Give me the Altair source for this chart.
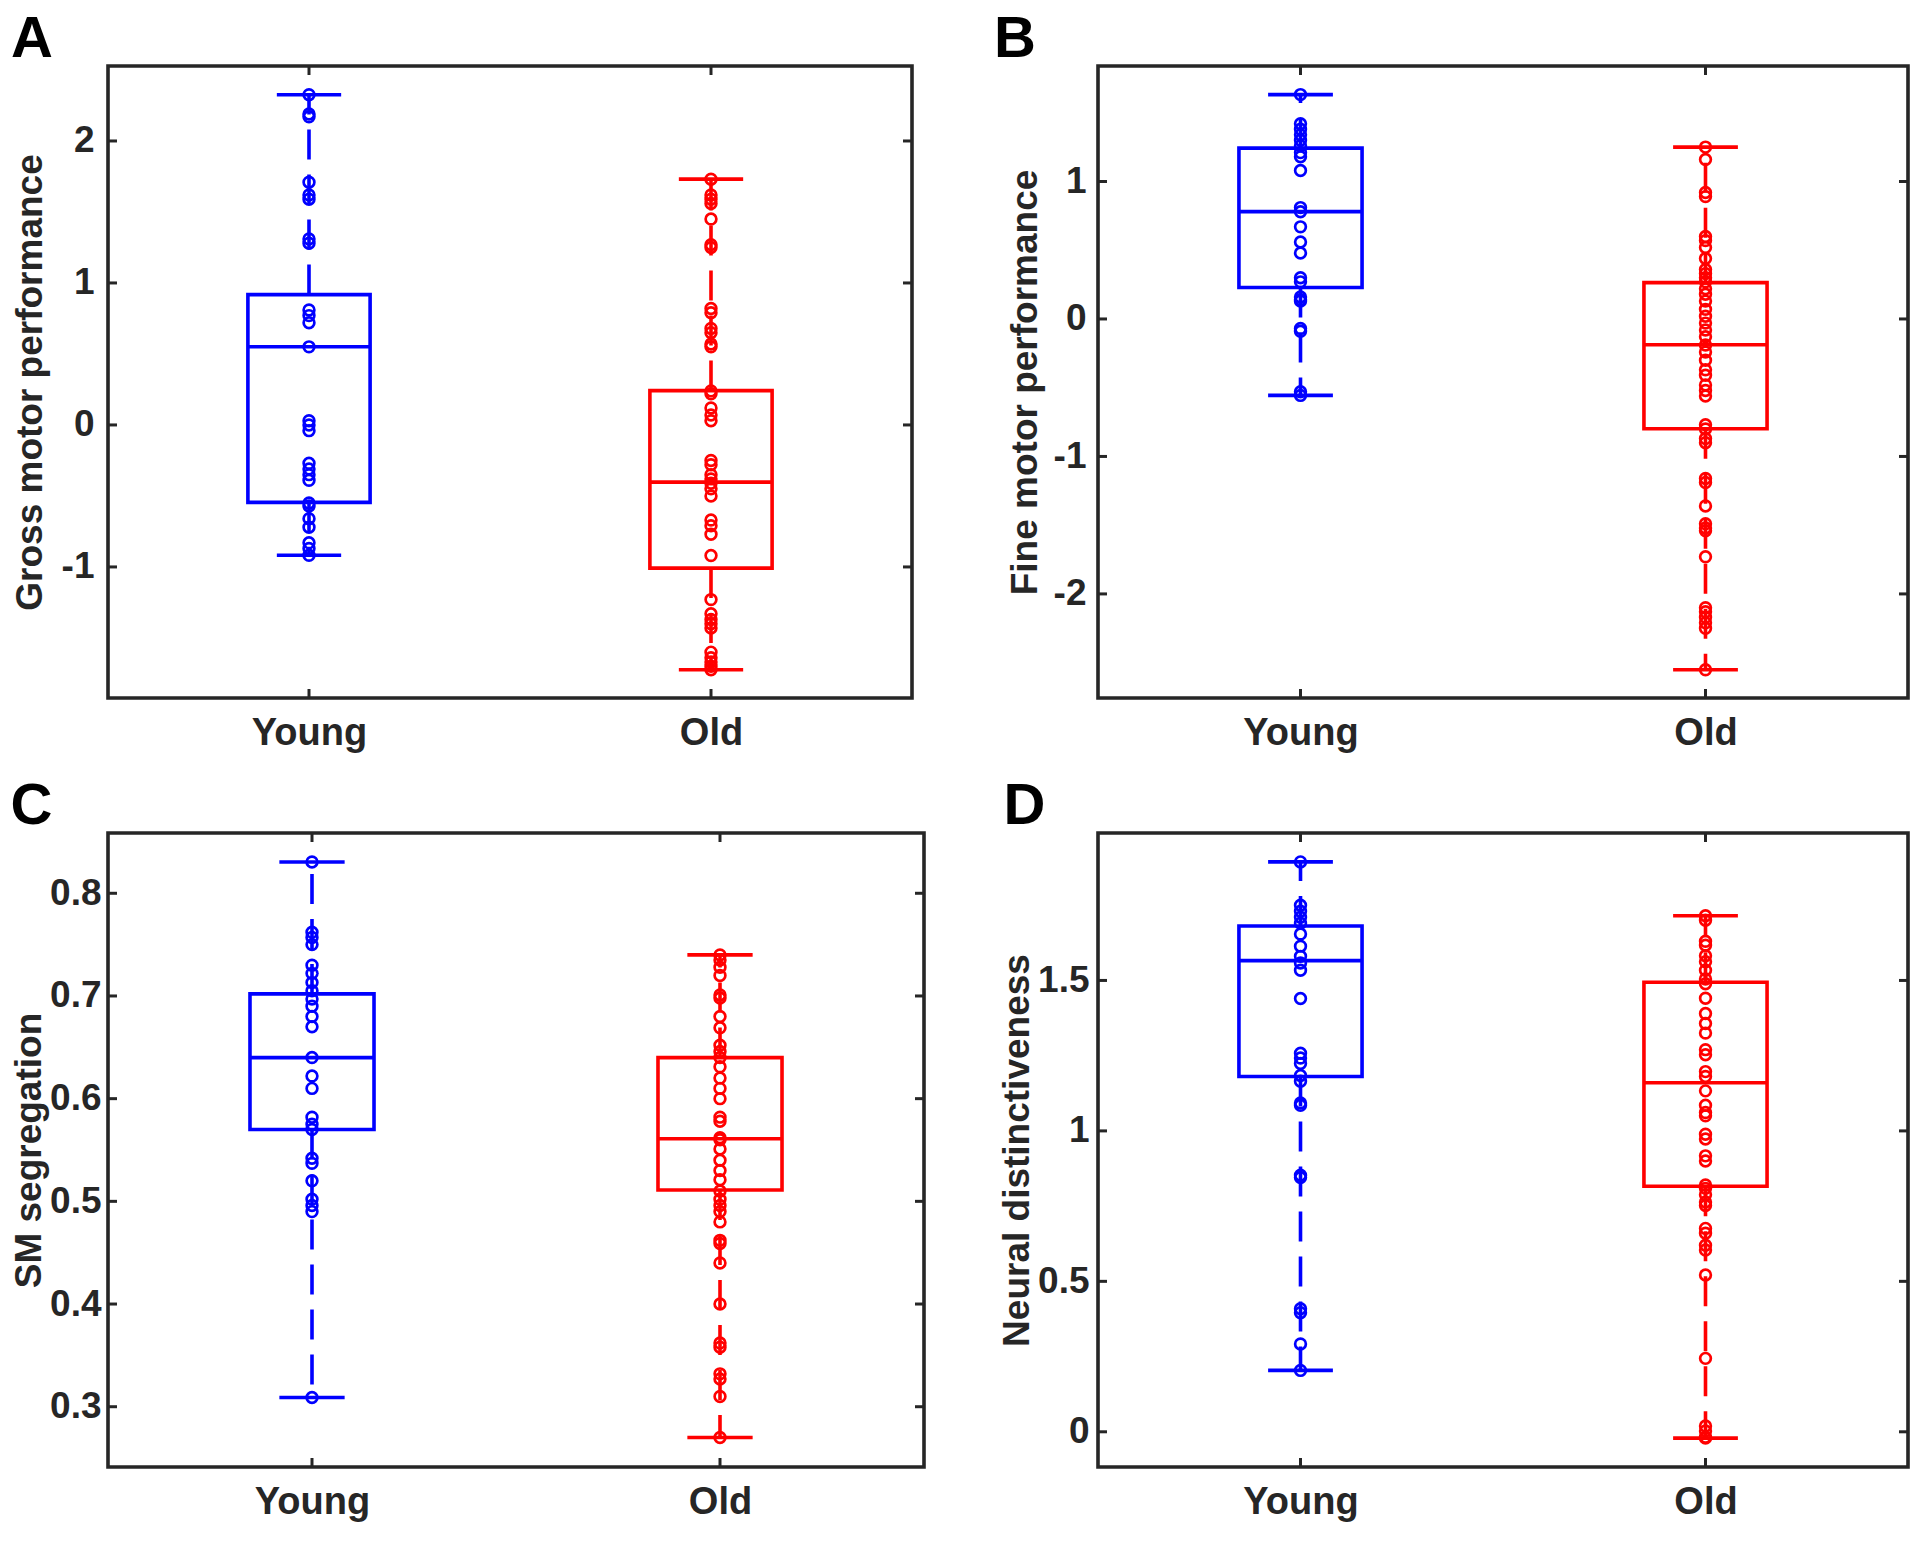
import altair as alt
import pandas as pd

GROUPS = ["Young", "Old"]
COLORS = ["#0000FF", "#FF0000"]
FONT = "Liberation Sans"
INK = "#262626"

# ---------------- Panel A : Gross motor performance ----------------
a_young = [2.326, 2.19, 2.17, 1.71, 1.62, 1.59, 1.31, 1.28, 0.81, 0.77, 0.72, 0.55,
           0.03, 0.0, -0.04, -0.27, -0.31, -0.35, -0.39, -0.55, -0.57, -0.66, -0.72,
           -0.83, -0.87, -0.918]
a_old = [1.731, 1.62, 1.59, 1.56, 1.45, 1.27, 1.25, 0.82, 0.79, 0.68, 0.65, 0.57, 0.55,
         0.24, 0.22, 0.12, 0.07, 0.03, -0.25, -0.28, -0.35, -0.38, -0.41, -0.45, -0.50,
         -0.67, -0.71, -0.77, -0.92, -1.23, -1.33, -1.37, -1.40, -1.43, -1.60, -1.64,
         -1.67, -1.70, -1.724]
# [lower whisker, Q1, median, Q3, upper whisker]
a_box_young = [-0.918, -0.545, 0.551, 0.918, 2.326]
a_box_old = [-1.724, -1.008, -0.403, 0.242, 1.731]
a_domain = [-1.923, 2.528]
a_ticks = [-1, 0, 1, 2]

# ---------------- Panel B : Fine motor performance ----------------
b_young = [1.632, 1.42, 1.38, 1.34, 1.30, 1.26, 1.21, 1.18, 1.08, 0.81, 0.78, 0.67, 0.56,
           0.48, 0.30, 0.27, 0.16, 0.14, 0.13, -0.07, -0.09, -0.53, -0.556]
b_old = [1.25, 1.16, 0.92, 0.89, 0.60, 0.57, 0.52, 0.44, 0.36, 0.33, 0.30, 0.27, 0.22,
         0.18, 0.13, 0.07, 0.02, -0.03, -0.08, -0.13, -0.19, -0.24, -0.30, -0.37, -0.41,
         -0.48, -0.52, -0.56, -0.77, -0.80, -0.87, -0.90, -1.16, -1.19, -1.36, -1.49,
         -1.52, -1.54, -1.73, -2.10, -2.13, -2.17, -2.21, -2.25, -2.552]
b_box_young = [-0.556, 0.229, 0.781, 1.243, 1.632]
b_box_old = [-2.552, -0.799, -0.188, 0.264, 1.25]
b_domain = [-2.757, 1.84]
b_ticks = [-2, -1, 0, 1]

# ---------------- Panel C : SM segregation ----------------
c_young = [0.8305, 0.762, 0.757, 0.750, 0.730, 0.722, 0.713, 0.705, 0.697, 0.690, 0.680,
           0.670, 0.640, 0.622, 0.610, 0.582, 0.575, 0.570, 0.542, 0.537, 0.520, 0.502,
           0.496, 0.490, 0.309]
c_old = [0.740, 0.735, 0.728, 0.720, 0.701, 0.698, 0.680, 0.669, 0.652, 0.646, 0.640,
         0.631, 0.620, 0.610, 0.600, 0.582, 0.578, 0.562, 0.560, 0.551, 0.540, 0.530,
         0.521, 0.510, 0.502, 0.496, 0.490, 0.480, 0.462, 0.459, 0.440, 0.400, 0.362,
         0.358, 0.332, 0.327, 0.310, 0.270]
c_box_young = [0.309, 0.570, 0.640, 0.702, 0.8305]
c_box_old = [0.270, 0.511, 0.561, 0.640, 0.740]
c_domain = [0.2413, 0.8587]
c_ticks = [0.3, 0.4, 0.5, 0.6, 0.7, 0.8]

# ---------------- Panel D : Neural distinctiveness ----------------
d_young = [1.894, 1.75, 1.73, 1.71, 1.69, 1.654, 1.614, 1.58, 1.558, 1.534, 1.44, 1.258,
           1.242, 1.224, 1.184, 1.165, 1.093, 1.085, 0.853, 0.845, 0.409, 0.396, 0.292,
           0.204]
d_old = [1.715, 1.70, 1.63, 1.617, 1.582, 1.562, 1.534, 1.505, 1.489, 1.441, 1.39, 1.357,
         1.325, 1.27, 1.253, 1.197, 1.181, 1.133, 1.085, 1.061, 1.05, 0.989, 0.973, 0.917,
         0.90, 0.82, 0.809, 0.788, 0.764, 0.752, 0.676, 0.66, 0.62, 0.604, 0.521, 0.244,
         0.019, 0.003, -0.018, -0.021]
d_box_young = [0.204, 1.181, 1.566, 1.681, 1.894]
d_box_old = [-0.021, 0.816, 1.160, 1.494, 1.715]
d_domain = [-0.117, 1.99]
d_ticks = [0, 0.5, 1, 1.5]

BOX_HALF = 0.152
CAP_HALF = 0.08
TICK_LEN = 9
LINE_W = 3.6
DASH = [30, 15]


def panel(young, old, box_y, box_o, domain, ticks, ytitle, letter, letter_dx,
          lab_pad, title_pad, w, h):
    pts = pd.DataFrame(
        [{"pos": 1, "group": "Young", "v": v} for v in young]
        + [{"pos": 2, "group": "Old", "v": v} for v in old]
    )
    boxes = pd.DataFrame([
        dict(pos=1, group="Young", lo=box_y[0], q1=box_y[1], med=box_y[2], q3=box_y[3], hi=box_y[4]),
        dict(pos=2, group="Old", lo=box_o[0], q1=box_o[1], med=box_o[2], q3=box_o[3], hi=box_o[4]),
    ])
    tick_df = pd.DataFrame({"t": ticks})
    cat_df = pd.DataFrame({"pos": [1, 2]})

    xs = alt.Scale(domain=[0.5, 2.5], nice=False, zero=False)
    ys = alt.Scale(domain=domain, nice=False, zero=False)
    color = alt.Color("group:N", scale=alt.Scale(domain=GROUPS, range=COLORS), legend=None)

    xaxis = alt.Axis(values=[1, 2], labelExpr="datum.value == 1 ? 'Young' : 'Old'",
                     title=None, grid=False, ticks=False, domain=False)
    yaxis = alt.Axis(values=ticks, title=ytitle, grid=False, ticks=False, domain=False,
                     labelPadding=lab_pad, titlePadding=title_pad,
                     labelExpr="replace(format(datum.value, '~g'), '\u2212', '-')")

    def X(f):
        return alt.X(f, scale=xs, axis=xaxis)

    def Y(f):
        return alt.Y(f, scale=ys, axis=yaxis)

    base = alt.Chart(boxes).transform_calculate(
        xl=f"datum.pos - {BOX_HALF}", xr=f"datum.pos + {BOX_HALF}",
        cl=f"datum.pos - {CAP_HALF}", cr=f"datum.pos + {CAP_HALF}",
    )

    box = base.mark_rect(filled=False, strokeWidth=LINE_W).encode(
        x=X("xl:Q"), x2="xr:Q", y=Y("q1:Q"), y2="q3:Q", color=color)
    med = base.mark_rule(strokeWidth=LINE_W).encode(
        x=X("xl:Q"), x2="xr:Q", y=Y("med:Q"), color=color)
    wh_up = base.mark_rule(strokeWidth=LINE_W, strokeDash=DASH).encode(
        x=X("pos:Q"), y=Y("q3:Q"), y2="hi:Q", color=color)
    wh_lo = base.mark_rule(strokeWidth=LINE_W, strokeDash=DASH).encode(
        x=X("pos:Q"), y=Y("q1:Q"), y2="lo:Q", color=color)
    cap_hi = base.mark_rule(strokeWidth=LINE_W).encode(
        x=X("cl:Q"), x2="cr:Q", y=Y("hi:Q"), color=color)
    cap_lo = base.mark_rule(strokeWidth=LINE_W).encode(
        x=X("cl:Q"), x2="cr:Q", y=Y("lo:Q"), color=color)
    points = alt.Chart(pts).mark_point(shape="circle", filled=False, size=115,
                                       strokeWidth=2.7, opacity=1).encode(
        x=X("pos:Q"), y=Y("v:Q"), color=color)
    # inward ticks on all four sides (MATLAB box style)
    yt_left = alt.Chart(tick_df).mark_rule(color=INK, strokeWidth=3).encode(
        y=Y("t:Q"), x=alt.value(0), x2=alt.value(TICK_LEN))
    yt_right = alt.Chart(tick_df).mark_rule(color=INK, strokeWidth=3).encode(
        y=Y("t:Q"), x=alt.value(w - TICK_LEN), x2=alt.value(w))
    xt_bot = alt.Chart(cat_df).mark_rule(color=INK, strokeWidth=3).encode(
        x=X("pos:Q"), y=alt.value(h - TICK_LEN), y2=alt.value(h))
    xt_top = alt.Chart(cat_df).mark_rule(color=INK, strokeWidth=3).encode(
        x=X("pos:Q"), y=alt.value(0), y2=alt.value(TICK_LEN))

    return alt.layer(box, med, wh_up, wh_lo, cap_hi, cap_lo, points,
                     yt_left, yt_right, xt_bot, xt_top).properties(
        width=w, height=h,
        title=alt.TitleParams(letter, anchor="start", frame="bounds", fontSize=58,
                              font=FONT, fontWeight="bold", color="black", offset=-4,
                              dx=letter_dx),
    )


pa = panel(a_young, a_old, a_box_young, a_box_old, a_domain, a_ticks,
           "Gross motor performance", "A", 0, 14, 12, 804, 632)
pb = panel(b_young, b_old, b_box_young, b_box_old, b_domain, b_ticks,
           "Fine motor performance", "B", -12, 12, 9, 810, 632)
pc = panel(c_young, c_old, c_box_young, c_box_old, c_domain, c_ticks,
           "SM segregation", "C", 0, 7, 1, 816, 634)
pd_ = panel(d_young, d_old, d_box_young, d_box_old, d_domain, d_ticks,
            "Neural distinctiveness", "D", 5, 9, 1, 810, 634)

chart = alt.concat(
    alt.hconcat(pa, pb, spacing=186, bounds="flush"),
    alt.hconcat(pc, pd_, spacing=174, bounds="flush"),
    columns=1, align="none", spacing=21,
).properties(
    padding={"left": 0, "top": 0, "right": 0, "bottom": 0},
    background="white",
).configure_view(
    stroke=INK, strokeWidth=3.6,
).configure_axis(
    labelFont=FONT, titleFont=FONT, labelFontSize=37, titleFontSize=37,
    labelFontWeight="bold", titleFontWeight="bold",
    labelColor=INK, titleColor=INK,
).configure_axisX(labelPadding=16, labelFontSize=38)

chart.save("out.html", embed_options={"renderer": "svg", "actions": False})
